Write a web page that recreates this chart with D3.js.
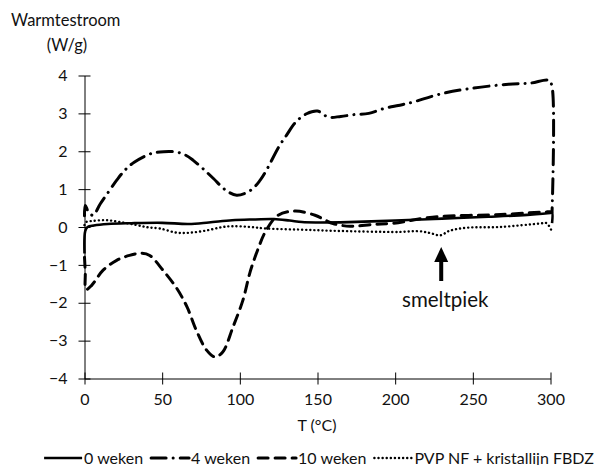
<!DOCTYPE html>
<html>
<head>
<meta charset="utf-8">
<script src="https://cdnjs.cloudflare.com/ajax/libs/d3/7.8.5/d3.min.js"></script>
<style>
  body { margin: 0; background: #fff; }
  svg text { font-family: Lato, "Open Sans", sans-serif; fill: #111; }
</style>
</head>
<body>
<div id="chart"></div>
<script>
// DSC curves
const temps0 = [0, 0.5, 2, 6, 15, 30, 50, 67, 80, 95, 110, 122, 132, 140, 150, 170, 200, 230, 260, 285, 300, 301, 301]
const vals0 = [-0.7, -0.1, 0, 0.04, 0.08, 0.1, 0.11, 0.08, 0.12, 0.18, 0.2, 0.21, 0.17, 0.13, 0.12, 0.13, 0.17, 0.22, 0.27, 0.32, 0.37, 0.38, 0.1]

const temps4 = [0, 0.5, 2.5, 5.5, 10, 14, 21, 26, 32, 43, 51, 59, 65, 70, 76, 83, 91, 98, 107, 113, 117, 125, 130, 136, 143, 150, 157, 165, 174, 183, 193, 202, 209, 230, 247, 273, 287, 299, 301, 301]
const vals4 = [0.3, 0.57, 0.4, 0.31, 0.6, 0.84, 1.25, 1.5, 1.71, 1.94, 1.99, 1.98, 1.9, 1.76, 1.55, 1.28, 0.97, 0.84, 0.97, 1.23, 1.49, 2.11, 2.42, 2.77, 2.99, 3.06, 2.9, 2.92, 2.97, 3.0, 3.13, 3.21, 3.27, 3.52, 3.65, 3.77, 3.8, 3.87, 3.7, 0.4]

const temps10 = [0, 0.5, 1, 4.6, 12, 20.7, 29, 37, 42, 50.5, 59.4, 66, 72, 78.6, 84, 89, 95.6, 102, 106.6, 112, 116.4, 124.6, 135.6, 148.4, 155, 160, 171, 186, 199, 224, 268, 298, 300]
const vals10 = [-0.8, -1.2, -1.65, -1.54, -1.14, -0.88, -0.75, -0.69, -0.75, -1.14, -1.62, -2.11, -2.73, -3.25, -3.43, -3.3, -2.64, -1.93, -1.19, -0.55, -0.13, 0.31, 0.42, 0.31, 0.18, 0.09, 0.02, 0.07, 0.1, 0.26, 0.33, 0.4, 0.4]

const tempsP = [0, 1, 5.5, 14, 23, 33.6, 41, 48.6, 59.4, 68, 78.7, 89, 95.6, 106.5, 117, 139, 160, 203, 215, 222.5, 229, 235, 246, 267.5, 293, 297.5, 301]
const valsP = [0.05, 0.13, 0.16, 0.18, 0.13, 0.05, -0.01, -0.04, -0.15, -0.15, -0.09, 0, 0.02, 0, -0.04, -0.07, -0.1, -0.13, -0.11, -0.16, -0.22, -0.1, -0.02, 0, 0.09, 0.1, -0.13]

const seriesNames = ['0 weken', '4 weken', '10 weken', 'PVP NF + kristallijn FBDZ']
const xTicks = [0, 50, 100, 150, 200, 250, 300]
const yTicks = [-4, -3, -2, -1, 0, 1, 2, 3, 4]
const peakT = 229

const width = 600
const height = 465
const fs = '16px'

const svg = d3.select('#chart')
  .append('svg')
  .attr('width', width)
  .attr('height', height)

const x = d3.scaleLinear().domain([0, 300]).range([84.5, 550.5])
const y = d3.scaleLinear().domain([-4, 4]).range([378.5, 75.5])

// assen
const yAxis = svg.append('g')
  .attr('transform', 'translate(84.5,0)')
  .call(d3.axisLeft(y).tickValues(yTicks).tickSize(6).tickSizeOuter(0).tickPadding(11))
yAxis.selectAll('.tick line').attr('x1', -6).attr('x2', 6)

const xAxis = svg.append('g')
  .attr('transform', 'translate(0,378.5)')
  .call(d3.axisBottom(x).tickValues(xTicks).tickSize(6).tickSizeOuter(0).tickPadding(9))
xAxis.selectAll('.tick line').attr('y1', -6).attr('y2', 6)

svg.selectAll('.domain, .tick line').attr('stroke', '#000')
svg.selectAll('.tick text')
  .style('font-family', 'Lato, sans-serif')
  .style('font-size', fs)
  .attr('fill', '#111')

// titels
svg.append('text').attr('x', 11).attr('y', 26).style('font-size', '16.5px').text('Warmtestroom')
svg.append('text').attr('x', 67).attr('y', 51).attr('text-anchor', 'middle').style('font-size', '16.5px').text('(W/g)')
svg.append('text').attr('x', 317).attr('y', 431).attr('text-anchor', 'middle').style('font-size', fs).text('T (°C)')

const styles = [
  { t: temps0, v: vals0, dash: null, w: 2.6, cap: 'butt' },
  { t: temps4, v: vals4, dash: '15,7,0.1,7', w: 3, cap: 'round' },
  { t: temps10, v: vals10, dash: '10,7', w: 3, cap: 'round' },
  { t: tempsP, v: valsP, dash: '0.1,4', w: 2.4, cap: 'round' }
]

const line = d3.line()
  .x(d => x(d[0]))
  .y(d => y(d[1]))
  .curve(d3.curveCatmullRom.alpha(0.5))

svg.append('g')
  .selectAll('path')
  .data(styles)
  .enter()
  .append('path')
  .attr('d', s => line(s.t.map((t, i) => [t, s.v[i]])))
  .attr('fill', 'none')
  .attr('stroke', '#000')
  .attr('stroke-width', s => s.w)
  .attr('stroke-linecap', s => s.cap)
  .attr('stroke-dasharray', s => s.dash)

// pijl smeltpiek
const ax = x(peakT) + 1
svg.append('rect').attr('x', ax - 2).attr('y', 261).attr('width', 4).attr('height', 20).attr('fill', '#000')
svg.append('path')
  .attr('d', `M${ax - 7},262 L${ax},247 L${ax + 7},262 Z`)
  .attr('fill', '#000')
svg.append('text').attr('x', ax + 4).attr('y', 307).attr('text-anchor', 'middle').style('font-size', '20.5px').text('smeltpiek')

// legenda
const legend = svg.append('g')
let cx = 0
styles.forEach((s, i) => {
  const g = legend.append('g').attr('transform', `translate(${cx},0)`)
  g.append('line')
    .attr('x1', 0).attr('x2', 38).attr('y1', 0).attr('y2', 0)
    .attr('stroke', '#000')
    .attr('stroke-width', s.w)
    .attr('stroke-linecap', s.cap)
    .attr('stroke-dasharray', s.dash)
  const txt = g.append('text').attr('x', 40).attr('y', 5.5).style('font-size', fs).text(seriesNames[i])
  cx += 40 + txt.node().getComputedTextLength() + 8
})
const total = cx - 8
legend.attr('transform', `translate(${(40 + 598) / 2 - total / 2},458)`)
</script>
</body>
</html>
